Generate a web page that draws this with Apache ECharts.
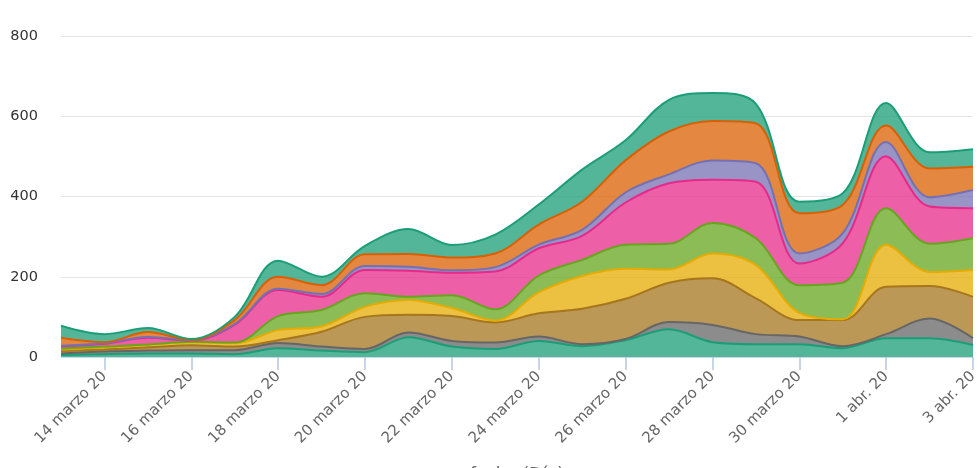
<!DOCTYPE html>
<html>
<head>
<meta charset="utf-8">
<script src="https://cdn.jsdelivr.net/npm/echarts@6/dist/echarts.min.js"></script>
<style>
html,body{margin:0;padding:0;background:#fff;}
#chart{width:980px;height:468px;}
</style>
</head>
<body>
<div id="chart"></div>
<script>
const categories = ["13 marzo 20","14 marzo 20","15 marzo 20","16 marzo 20","17 marzo 20","18 marzo 20","19 marzo 20","20 marzo 20","21 marzo 20","22 marzo 20","23 marzo 20","24 marzo 20","25 marzo 20","26 marzo 20","27 marzo 20","28 marzo 20","29 marzo 20","30 marzo 20","31 marzo 20","1 abr. 20","2 abr. 20","3 abr. 20"];

// stacked from bottom to top
const s1 = [5,7,9,9,7,22,16,12,49,26,20,40,27,42,69,37,32,32,22,47,47,30];
const s2 = [4,7,7,8,10,13,10,8,12,14,16,11,5,3,18,43,25,19,5,10,49,17];
const s3 = [6,5,8,12,9,7,37,80,44,62,50,58,88,100,98,116,89,41,65,118,81,103];
const s4 = [4,5,6,7,8,25,13,25,37,20,5,52,82,75,33,62,83,18,2,105,35,67];
const s5 = [2,2,1,2,2,35,41,34,8,32,28,42,40,60,64,76,67,69,91,91,70,79];
const s6 = [6,7,17,3,44,65,33,58,65,56,94,68,60,105,151,108,141,54,98,129,93,75];
const s7 = [1,1,2,1,2,3,7,10,10,6,11,9,15,25,22,48,46,25,25,36,23,45];
const s8 = [20,3,12,1,10,30,22,29,32,32,34,50,70,80,107,98,99,100,71,41,72,58];
const s9 = [30,20,10,2,8,40,21,21,62,31,47,50,80,50,79,70,49,29,29,56,40,44];

const seriesData = [s1,s2,s3,s4,s5,s6,s7,s8,s9];
const seriesColors = ["#1b9e77","#666666","#a6761d","#e6ab02","#66a61e","#e7298a","#7570b3","#d95f02","#1b9e77"];
const yTicks = [0,200,400,600,800];

const chart = echarts.init(document.getElementById('chart'), null, {renderer:'canvas'});
const showOdd = (i) => i % 2 === 1;
chart.setOption({
  animation: false,
  backgroundColor: '#ffffff',
  grid: {left: 61, right: 7, top: 36, bottom: 111, containLabel: false, outerBoundsMode: 'none'},
  xAxis: {
    type: 'category',
    data: categories,
    boundaryGap: false,
    name: 'fecha (Día)',
    nameLocation: 'middle',
    nameGap: 110,
    nameTextStyle: {color: '#666666', fontSize: 17, fontFamily: 'DejaVu Sans'},
    axisLine: {show: true, onZero: false, lineStyle: {color: '#ccd6eb', width: 1}},
    axisTick: {show: true, inside: false, length: 13, interval: showOdd, lineStyle: {color: '#b8c6e0', width: 1.5}},
    axisLabel: {interval: showOdd, rotate: 45, margin: 17, color: '#666666', fontSize: 15, fontFamily: 'DejaVu Sans'},
    splitLine: {show: false}
  },
  yAxis: {
    type: 'value',
    min: yTicks[0],
    max: yTicks[yTicks.length-1],
    interval: 200,
    axisLine: {show: false},
    axisTick: {show: false},
    axisLabel: {margin: 23, color: '#333333', fontSize: 14.5, fontFamily: 'DejaVu Sans'},
    splitLine: {lineStyle: {color: '#e6e6e6', width: 1}}
  },
  series: seriesData.map((d, k) => ({
    type: 'line',
    stack: 'total',
    data: d,
    smooth: 0.35,
    symbol: 'none',
    lineStyle: {color: seriesColors[k], width: 2},
    itemStyle: {color: seriesColors[k]},
    areaStyle: {color: seriesColors[k], opacity: 0.75}
  }))
});
</script>
</body>
</html>
